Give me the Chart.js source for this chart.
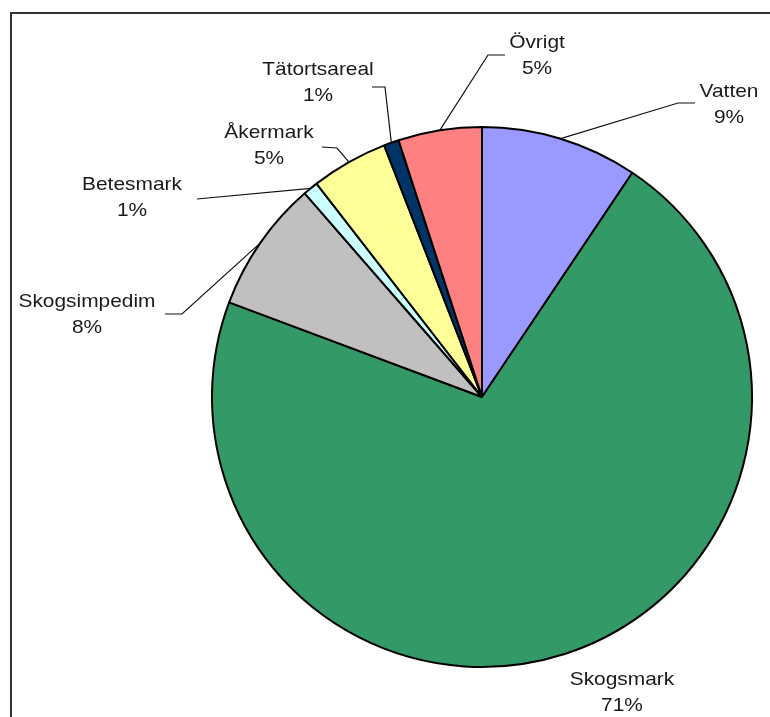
<!DOCTYPE html>
<html>
<head>
<meta charset="utf-8">
<script src="https://cdn.jsdelivr.net/npm/chart.js@4/dist/chart.umd.min.js"></script>
<style>
    html, body { margin: 0; padding: 0; background: #fff; }
    #wrap { width: 770px; height: 717px; }
</style>
</head>
<body>
<div id="wrap"><canvas id="land-chart" width="770" height="717"></canvas></div>
<script>
// Markanvändning, andel av total areal
const categories = ['Vatten', 'Skogsmark', 'Skogsimpedim', 'Betesmark', 'Åkermark', 'Tätortsareal', 'Övrigt'];
const shares = [9.4, 71.3, 7.9, 0.9, 4.6, 0.9, 5.0];
const percentLabels = ['9%', '71%', '8%', '1%', '5%', '1%', '5%'];
const sliceColors = ['#9999FF', '#339966', '#C0C0C0', '#CCFFFF', '#FFFF99', '#003366', '#FF8080'];

// where each data label sits and how its leader line bends (canvas px)
const labelLayout = [
    { x: 729, y: 92,  leader: [[678, 103], [695, 103]] },
    { x: 622, y: 680, leader: [] },
    { x: 87,  y: 302, leader: [[182, 314], [165, 314]] },
    { x: 132, y: 185, leader: [[197, 199]] },
    { x: 269, y: 133, leader: [[337, 148], [322, 147]] },
    { x: 318, y: 70,  leader: [[385, 87], [372, 87]] },
    { x: 537, y: 43,  leader: [[488, 55], [505, 55]] }
];

const framePlugin = {
    id: 'frame',
    beforeDraw(chart) {
        const ctx = chart.ctx;
        ctx.save();
        ctx.fillStyle = '#fff';
        ctx.fillRect(0, 0, chart.width, chart.height);
        ctx.strokeStyle = '#333';
        ctx.lineWidth = 2;
        ctx.strokeRect(11, 13, chart.width + 20, chart.height + 20);
        ctx.restore();
    }
};

const sliceLabels = {
    id: 'sliceLabels',
    afterDatasetsDraw(chart) {
        const ctx = chart.ctx;
        const arcs = chart.getDatasetMeta(0).data;
        ctx.save();
        arcs.forEach((arc, i) => {
            const lay = labelLayout[i];
            const mid = (arc.startAngle + arc.endAngle) / 2;
            const sx = arc.x + Math.cos(mid) * arc.outerRadius;
            const sy = arc.y + Math.sin(mid) * arc.outerRadius;

            if (lay.leader.length) {
                ctx.beginPath();
                ctx.moveTo(sx, sy);
                lay.leader.forEach(p => ctx.lineTo(p[0], p[1]));
                ctx.strokeStyle = '#111';
                ctx.lineWidth = 1.2;
                ctx.stroke();
            }

            ctx.fillStyle = '#1a1a1a';
            ctx.font = '19px "Liberation Sans", Arial, sans-serif';
            ctx.textAlign = 'center';
            ctx.textBaseline = 'middle';
            [categories[i], percentLabels[i]].forEach((t, k) => {
                ctx.save();
                ctx.translate(lay.x, lay.y + k * 26);
                ctx.scale(1.1, 1);
                ctx.fillText(t, 0, 0);
                ctx.restore();
            });
        });
        ctx.restore();
    }
};

new Chart(document.getElementById('land-chart'), {
    type: 'pie',
    data: {
        labels: categories,
        datasets: [{
            data: shares,
            backgroundColor: sliceColors,
            borderColor: '#000',
            borderWidth: 2
        }]
    },
    options: {
        responsive: false,
        animation: false,
        radius: 270,
        layout: { padding: { left: 212, right: 18, top: 127, bottom: 50 } },
        plugins: {
            legend: { display: false },
            tooltip: { enabled: false }
        }
    },
    plugins: [framePlugin, sliceLabels]
});
</script>
</body>
</html>
